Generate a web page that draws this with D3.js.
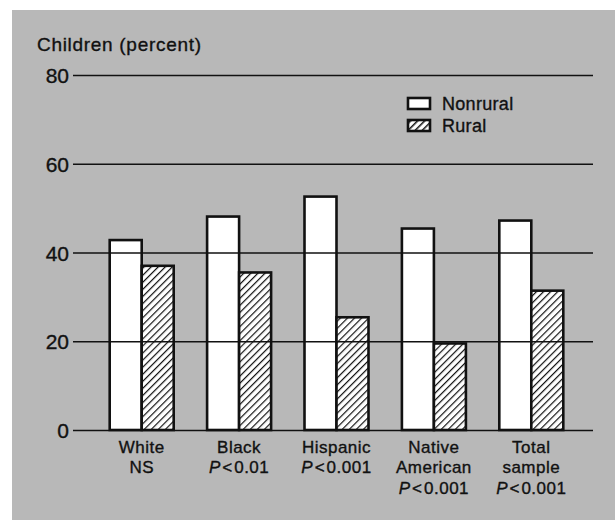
<!DOCTYPE html>
<html><head><meta charset="utf-8">
<script src="https://cdn.jsdelivr.net/npm/d3@7"></script>
<style>html,body{margin:0;padding:0;background:#fff;}svg{display:block;} text{stroke:#111;stroke-width:0.35px;}</style>
</head><body>
<svg id="chart" width="615" height="520"></svg>
<script>
const categories = ["White", "Black", "Hispanic", "Native American", "Total sample"];
const labelLines = [["White","NS"],["Black","P<0.01"],["Hispanic","P<0.001"],["Native","American","P<0.001"],["Total","sample","P<0.001"]];
const nonrural = [42.8, 48.1, 52.6, 45.4, 47.2];
const rural = [37.0, 35.5, 25.4, 19.5, 31.4];
const yTicks = [0, 20, 40, 60, 80];
const seriesNames = ["Nonrural", "Rural"];

const svg = d3.select("#chart");
const font = "'Liberation Sans', Arial, Helvetica, sans-serif";
const ink = "#111";

// background panel
svg.append("rect").attr("x",12).attr("y",10).attr("width",603).attr("height",510).attr("fill","#b8b8b8");

const defs = svg.append("defs");
const pat = defs.append("pattern").attr("id","hatch").attr("patternUnits","userSpaceOnUse")
  .attr("width",5).attr("height",5).attr("patternTransform","rotate(45)");
pat.append("rect").attr("width",5).attr("height",5).attr("fill","#fff");
pat.append("line").attr("x1",0).attr("y1",0).attr("x2",0).attr("y2",5).attr("stroke",ink).attr("stroke-width",2.4);
const pat2 = defs.append("pattern").attr("id","hatch2").attr("patternUnits","userSpaceOnUse")
  .attr("width",5).attr("height",5).attr("patternTransform","rotate(45)");
pat2.append("rect").attr("width",5).attr("height",5).attr("fill","#fff");
pat2.append("line").attr("x1",0).attr("y1",0).attr("x2",0).attr("y2",5).attr("stroke",ink).attr("stroke-width",3);

const y = d3.scaleLinear().domain([0,80]).range([430,75]);
const x = d3.scaleBand().domain(categories).range([93,580]).paddingInner(0.0).paddingOuter(0);
const xs = d3.scaleBand().domain(seriesNames).range([0,64]);
const bw = 32;

// bars
const g = svg.append("g");
categories.forEach((c,i)=>{
  const cx = x(c) + x.bandwidth()/2;
  g.append("rect").attr("x", cx-32+xs("Nonrural")).attr("y", y(nonrural[i])).attr("width", bw).attr("height", y(0)-y(nonrural[i]))
    .attr("fill","#fff").attr("stroke",ink).attr("stroke-width",2.6);
  g.append("rect").attr("x", cx-32+xs("Rural")).attr("y", y(rural[i])).attr("width", bw).attr("height", y(0)-y(rural[i]))
    .attr("fill","url(#hatch)").attr("stroke",ink).attr("stroke-width",2.6);
});

// y axis gridlines (drawn over bars)
const yAxis = d3.axisLeft(y).tickValues(yTicks).tickSize(-520).tickPadding(4);
const ya = svg.append("g").attr("transform","translate(73,0)").call(yAxis);
ya.select(".domain").remove();
ya.selectAll(".tick line").attr("stroke",ink).attr("stroke-width",1.6);
ya.selectAll(".tick text").attr("font-family",font).attr("font-size",21).attr("fill",ink).attr("x",-4).attr("dy","0.36em");

// title
svg.append("text").attr("x",37).attr("y",51).attr("font-family",font).attr("font-size",19)
  .attr("letter-spacing",0.7).attr("fill",ink).text("Children (percent)");

// category labels
categories.forEach((c,i)=>{
  const cx = x(c) + x.bandwidth()/2;
  labelLines[i].forEach((ln,j)=>{
    const t = svg.append("text").attr("x",cx).attr("y",452.5 + j*20.7).attr("text-anchor","middle")
      .attr("font-family",font).attr("font-size",17).attr("letter-spacing",0.5).attr("fill",ink);
    if (ln.startsWith("P<")) {
      t.append("tspan").attr("font-style","italic").text("P");
      t.append("tspan").attr("dx",1.5).text("<");
      t.append("tspan").attr("dx",1.5).text(ln.slice(2));
    } else t.text(ln);
  });
});

// legend
const leg = svg.append("g");
seriesNames.forEach((s,i)=>{
  leg.append("rect").attr("x",408).attr("y",98+i*22).attr("width",22).attr("height",11)
    .attr("fill", i===0 ? "#fff" : "url(#hatch2)").attr("stroke",ink).attr("stroke-width",2.6);
  leg.append("text").attr("x",442).attr("y",110+i*21.5).attr("font-family",font).attr("font-size",18)
    .attr("letter-spacing",0.3).attr("fill",ink).text(s);
});
</script>
</body></html>
